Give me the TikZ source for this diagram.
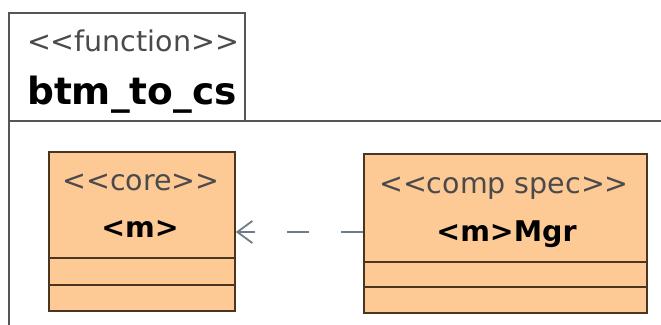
\documentclass[tikz,border=0pt]{standalone}
\usepackage{fontspec}
\setmainfont{DejaVu Sans}
\usetikzlibrary{arrows.meta}
\definecolor{boxfill}{HTML}{FDC995}
\definecolor{boxline}{HTML}{4A3520}
\definecolor{pkgline}{HTML}{555555}
\definecolor{stereo}{HTML}{4A4A4A}
\definecolor{arrowc}{HTML}{6E7C8A}
\newcommand{\lt}{<{}}
\newcommand{\gt}{>{}}
\tikzset{
  umlbox/.style={draw=boxline, fill=boxfill, line width=1.6pt, minimum width=#1, inner sep=0pt},
  stereotxt/.style={font=\fontsize{28.5}{30}\selectfont, text=stereo, inner sep=0pt, anchor=base},
  nametxt/.style={font=\fontsize{28.5}{30}\selectfont\bfseries, text=black, inner sep=0pt, anchor=base},
  divider/.style={draw=boxline, line width=1.6pt},
  depend/.style={draw=arrowc, line width=1.8pt, dash pattern=on 22pt off 32pt, -{Straight Barb[length=15pt,width=22pt,line width=1.8pt]}}
}
\begin{document}
\begin{tikzpicture}[x=1pt,y=-1pt]
\useasboundingbox[fill=white] (0,0) rectangle (661,324);
\begin{scope}
\clip (0,0) rectangle (661,324);
% package tab
\draw[pkgline, line width=1.8pt] (9,121) -- (9,13) -- (245,13) -- (245,121);
% package body
\draw[pkgline, line width=1.8pt] (9,121) rectangle (680,340);
\end{scope}
\node[stereotxt] (fn) at (133,51) {\lt\lt function\gt\gt};
\node[font=\fontsize{37.5}{40}\selectfont\bfseries, inner sep=0pt, anchor=base] (pkgname) at (132,104) {btm\_to\_cs};
% core class
\node[umlbox=186pt, minimum height=159pt] (core) at (142,231.5) {};
\draw[divider] (49,258) -- (235,258);
\draw[divider] (49,285) -- (235,285);
\node[stereotxt] (coreS) at (141,190) {\lt\lt core\gt\gt};
\node[nametxt] (coreN) at (140,237) {\lt m\gt};
% comp spec class
\node[umlbox=283pt, minimum height=159pt] (mgr) at (505.5,233.5) {};
\draw[divider] (364,262) -- (647,262);
\draw[divider] (364,287) -- (647,287);
\node[stereotxt] (mgrS) at (504,193) {\lt\lt comp spec\gt\gt};
\node[nametxt] (mgrN) at (506.5,241) {\lt m\gt Mgr};
% dependency
\draw[depend] (mgr.west |- 0,232) -- (core.east |- 0,232);
\end{tikzpicture}
\end{document}
